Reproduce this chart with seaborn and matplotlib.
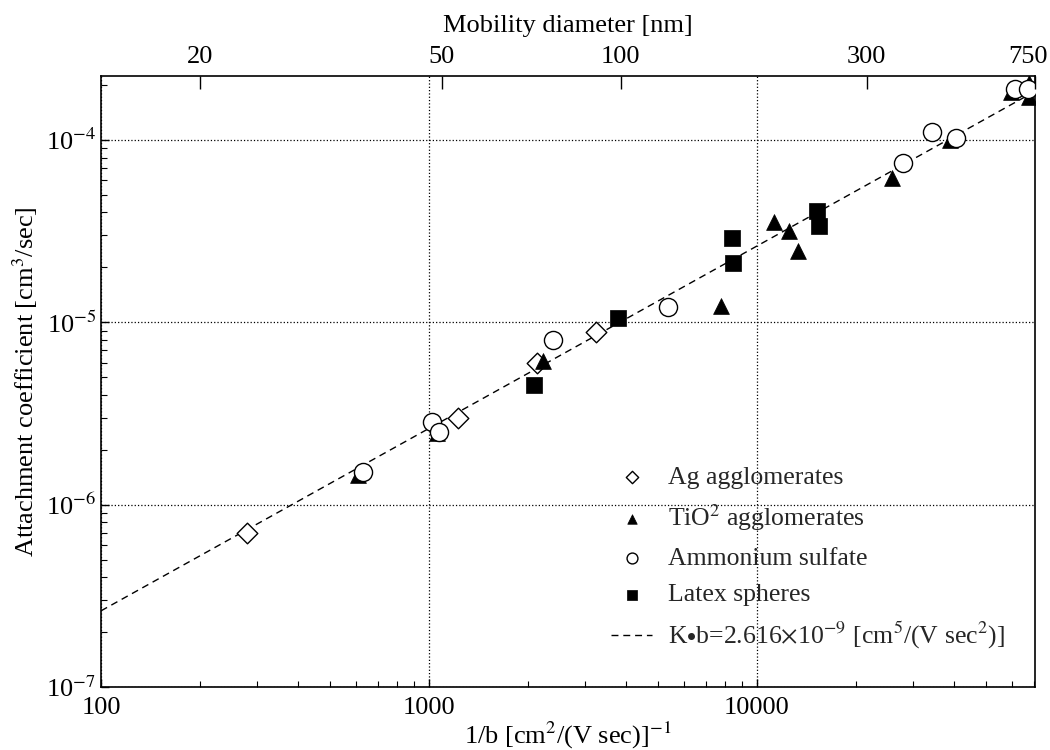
import numpy as np
import pandas as pd
import matplotlib
matplotlib.use("Agg")
import matplotlib.pyplot as plt
import matplotlib.transforms as mtransforms
import seaborn as sns
from matplotlib.ticker import FixedLocator, FixedFormatter, LogLocator, NullFormatter

# ---- data ----
ag_x = [279, 1225, 2135, 3230]
ag_y = [7.0e-7, 3.0e-6, 6.0e-6, 8.8e-6]

tio2_x = [608, 1058, 2230, 7770, 11270, 12530, 13340, 25800, 38700, 59400, 67500, 67500]
tio2_y = [1.45e-6, 2.47e-6, 6.1e-6, 1.22e-5, 3.53e-5, 3.15e-5, 2.45e-5, 6.2e-5, 1.0e-4, 1.82e-4, 2.04e-4, 1.71e-4]

amm_x = [629, 1021, 1073, 2390, 5355, 27860, 34200, 40400, 61200, 67000]
amm_y = [1.51e-6, 2.83e-6, 2.5e-6, 7.96e-6, 1.21e-5, 7.5e-5, 1.1e-4, 1.03e-4, 1.89e-4, 1.89e-4]

latex_x = [2090, 3770, 8390, 8450, 15240, 15460]
latex_y = [4.5e-6, 1.06e-5, 2.89e-5, 2.1e-5, 4.05e-5, 3.36e-5]

K_b = 2.616e-9
fit_x = [100, 70500]

top_tick_pos = [200, 1096, 3850, 21600, 70500]
top_tick_labels = ["20", "50", "100", "300", "750"]

x_ticks = [100, 1000, 10000]
x_tick_labels = ["100", "1000", "10000"]
y_ticks = [1e-7, 1e-6, 1e-5, 1e-4]
y_tick_labels = [r'10$^{-7}$', r'10$^{-6}$', r'10$^{-5}$', r'10$^{-4}$']

x_lim = (100, 70500)
y_lim = (1e-7, 2.24e-4)

FIT_LABEL = r'K$\bullet$b=2.616$\times$10$^{-9}$ [cm$^5$/(V sec$^2$)]'

# ---- style ----
sns.set_theme(style="ticks")
plt.rcParams['font.family'] = ['Liberation Serif', 'DejaVu Serif']
plt.rcParams['mathtext.fontset'] = 'stix'
FS = 19

fig = plt.figure(figsize=(10.5, 7.5), dpi=100)
ax = fig.add_axes([0.0962, 0.084, 0.8895, 0.8147])

ax.set_xscale('log')
ax.set_yscale('log')

fit_df = pd.DataFrame({'x': fit_x, 'y': [K_b * v for v in fit_x]})
sns.lineplot(data=fit_df, x='x', y='y', ax=ax, color='black', lw=1.0,
             linestyle=(0, (5, 3.5)), label=FIT_LABEL, zorder=2)

def pts(xs, ys):
    return pd.DataFrame({'x': xs, 'y': ys})

sns.scatterplot(data=pts(ag_x, ag_y), x='x', y='y', ax=ax, marker='D', s=110,
                facecolor='white', edgecolor='black', linewidth=1.0, label='Ag agglomerates', zorder=3)
sns.scatterplot(data=pts(tio2_x, tio2_y), x='x', y='y', ax=ax, marker='^', s=130,
                color='black', edgecolor='black', linewidth=0.5, label=r'TiO$^2$ agglomerates', zorder=3)
sns.scatterplot(data=pts(amm_x, amm_y), x='x', y='y', ax=ax, marker='o', s=170,
                facecolor='white', edgecolor='black', linewidth=1.0, label='Ammonium sulfate', zorder=4)
sns.scatterplot(data=pts(latex_x, latex_y), x='x', y='y', ax=ax, marker='s', s=120,
                color='black', edgecolor='black', linewidth=0.5, label='Latex spheres', zorder=3)

ax.set_xlim(*x_lim)
ax.set_ylim(*y_lim)

ax.grid(True, which='major', color='black', linestyle=':', linewidth=0.9)
ax.grid(False, which='minor')

for sp in ax.spines.values():
    sp.set_color('black')
    sp.set_linewidth(1.2)

ax.tick_params(which='major', direction='in', length=6, width=1, labelsize=FS,
               top=False, right=False, colors='black')
ax.tick_params(which='minor', direction='in', length=4, width=0.8,
               top=False, right=False, colors='black')
ax.tick_params(axis='x', which='major', pad=7)

ax.xaxis.set_major_locator(FixedLocator(x_ticks))
ax.xaxis.set_major_formatter(FixedFormatter(x_tick_labels))
ax.xaxis.set_minor_locator(LogLocator(base=10, subs=np.arange(2, 10)))
ax.xaxis.set_minor_formatter(NullFormatter())
ax.yaxis.set_major_locator(FixedLocator(y_ticks))
ax.yaxis.set_major_formatter(FixedFormatter(y_tick_labels))
ax.yaxis.set_minor_locator(LogLocator(base=10, subs=np.arange(2, 10)))
ax.yaxis.set_minor_formatter(NullFormatter())

ax.set_xlabel(r'1/b [cm$^2$/(V sec)]$^{-1}$', fontsize=FS, color='black', labelpad=1)
ax.set_ylabel(r'Attachment coefficient [cm$^3$/sec]', fontsize=FS, color='black', labelpad=4)

# top axis: mobility diameter
top = ax.twiny()
top.set_xscale('log')
top.set_xlim(*x_lim)
top.xaxis.set_major_locator(FixedLocator(top_tick_pos))
top.xaxis.set_major_formatter(FixedFormatter(top_tick_labels))
top.xaxis.set_minor_locator(FixedLocator([]))
top.tick_params(axis='x', which='major', direction='in', length=9, width=1, labelsize=FS,
                colors='black', pad=6)
top.set_xlabel('Mobility diameter [nm]', fontsize=FS, color='black', labelpad=10)
for sp in top.spines.values():
    sp.set_visible(False)

# keep the "750" label inside the canvas
last = top.get_xticklabels()[-1]
last.set_transform(last.get_transform() + mtransforms.ScaledTranslation(-7 / 100, 0, fig.dpi_scale_trans))

# legend in desired order
h, l = ax.get_legend_handles_labels()
order = [l.index(n) for n in ['Ag agglomerates', r'TiO$^2$ agglomerates', 'Ammonium sulfate',
                              'Latex spheres', FIT_LABEL]]
leg = ax.legend([h[i] for i in order], [l[i] for i in order], loc='lower right',
                bbox_to_anchor=(0.992, 0.021), frameon=False, fontsize=18.5,
                labelspacing=0.53, handlelength=1.6, handletextpad=0.6, markerscale=0.6)

fig.savefig('out.png', dpi=100)
